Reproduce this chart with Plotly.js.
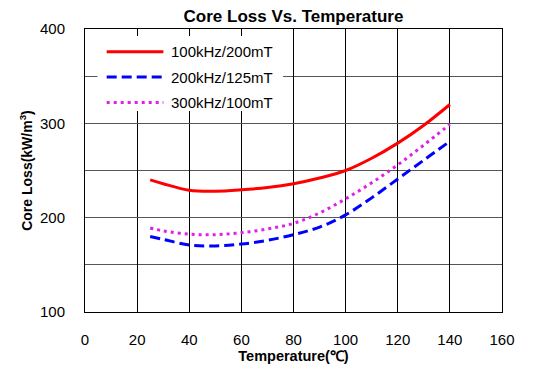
<!DOCTYPE html>
<html>
<head>
<meta charset="utf-8">
<script src="https://cdn.plot.ly/plotly-3.0.1.min.js"></script>
<style>html,body{margin:0;padding:0;background:#fff;}#chart{width:536px;height:370px;}</style>
</head>
<body>
<div id="chart"></div>
<script>
var temperature = [25, 30, 40, 50, 60, 70, 80, 90, 100, 110, 120, 130, 140];
var loss100k = [240, 236, 229, 228, 229.5, 232, 236, 242, 250, 263, 279, 298, 320];
var loss200k = [180, 177, 171, 170, 172, 176, 182, 190, 203, 221, 241, 261, 281];
var loss300k = [189, 186, 182.5, 182, 184, 188, 194, 205, 220, 237, 256, 277, 299];
var seriesNames = ['100kHz/200mT', '200kHz/125mT', '300kHz/100mT'];
var xTicks = [0, 20, 40, 60, 80, 100, 120, 140, 160];
var yTicks = [100, 200, 300, 400];

var colors = ['#ff0000', '#0000ff', '#e020e8'];
var dashes = ['solid', '10px,5px', '3px,4px'];
var series = [loss100k, loss200k, loss300k];

var traces = series.map(function (s, i) {
  return {
    x: temperature, y: s, type: 'scatter', mode: 'lines', name: seriesNames[i],
    line: {color: colors[i], width: 3, dash: dashes[i], shape: 'spline', smoothing: 1},
    showlegend: false
  };
});

var font = 'Liberation Sans, Arial, sans-serif';
var shapes = [{
  type: 'rect', xref: 'paper', yref: 'paper', x0: 0.03, x1: 0.475, y0: 0.71, y1: 0.975,
  fillcolor: '#ffffff', line: {width: 0}, layer: 'above'
}];
var annotations = [];
var legY = [0.92, 0.83, 0.74];
seriesNames.forEach(function (n, i) {
  shapes.push({type: 'line', xref: 'paper', yref: 'paper', x0: 0.052, x1: 0.188, y0: legY[i], y1: legY[i],
    line: {color: colors[i], width: 3, dash: dashes[i]}, layer: 'above'});
  annotations.push({xref: 'paper', yref: 'paper', x: 0.202, y: legY[i], xanchor: 'left', yanchor: 'middle',
    text: n, showarrow: false, font: {family: font, size: 15, color: '#000'}});
});

var layout = {
  width: 536, height: 370,
  margin: {l: 85, r: 34, t: 29, b: 58},
  paper_bgcolor: '#fff', plot_bgcolor: '#fff',
  title: {text: '<b>Core Loss Vs. Temperature</b>', font: {family: font, size: 17, color: '#000'},
    x: 0.5, xref: 'paper', xanchor: 'center', y: 0.957, yanchor: 'middle'},
  xaxis: {
    range: [0, 160], tickvals: xTicks, showgrid: true, gridcolor: '#000', gridwidth: 1,
    zeroline: false, showline: true, linecolor: '#000', linewidth: 1, mirror: true,
    ticks: '', ticklabelstandoff: 14, tickfont: {family: font, size: 15, color: '#000'},
    title: {text: '<b>Temperature(℃)</b>', font: {family: font, size: 14.5, color: '#000'}, standoff: 0}
  },
  yaxis: {
    range: [100, 400], tickvals: yTicks, showgrid: true, gridcolor: '#555', gridwidth: 1,
    minor: {dtick: 50, tick0: 100, showgrid: true, gridcolor: '#555', gridwidth: 1, ticks: ''},
    zeroline: false, showline: true, linecolor: '#000', linewidth: 1, mirror: true,
    ticks: '', ticklabelstandoff: 16, tickfont: {family: font, size: 15, color: '#000'},
    title: {text: '<b>Core Loss(kW/m<sup>3</sup>)</b>', font: {family: font, size: 14, color: '#000'}, standoff: 4}
  },
  shapes: shapes,
  annotations: annotations,
  showlegend: false
};

Plotly.newPlot('chart', traces, layout, {displayModeBar: false, staticPlot: true});
</script>
</body>
</html>
